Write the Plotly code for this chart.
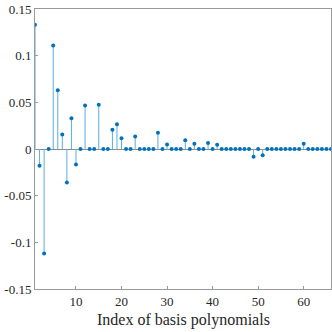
import plotly.graph_objects as go

# coefficient value per basis polynomial index (1..66)
index = list(range(1, 67))
coef = [0.133, -0.018, -0.112, 0, 0.111, 0.063, 0.0155, -0.036, 0.033, -0.0165,
        0, 0.0465, 0, 0, 0.0475, 0, 0, 0.0205, 0.0265, 0.0115,
        0, 0, 0.0135, 0, 0, 0, 0, 0.0175, 0, 0.0048,
        0, 0, 0, 0.0093, 0, 0.0055, 0, 0, 0.0065, 0,
        0.0045, 0, 0, 0, 0, 0, 0, 0, -0.0082, 0,
        -0.0068, 0, 0, 0, 0, 0, 0, 0, 0, 0.0055,
        0, 0, 0, 0, 0, 0]

xticks = [10, 20, 30, 40, 50, 60]
yticks = [-0.15, -0.1, -0.05, 0, 0.05, 0.1, 0.15]
ytick_text = ['-0.15', '-0.1', '-0.05', '0', '0.05', '0.1', '0.15']

# stems: vertical segments from 0 to each value
sx, sy = [], []
for i, v in zip(index, coef):
    sx += [i, i, None]
    sy += [0, v, None]

fig = go.Figure()
fig.add_trace(go.Scatter(x=sx, y=sy, mode='lines',
                         line=dict(color='#5aaee0', width=1), hoverinfo='skip'))
fig.add_trace(go.Scatter(x=index, y=coef, mode='markers',
                         marker=dict(color='#0072BD', size=4)))

serif = 'Liberation Serif, Times New Roman, serif'
axis_style = dict(showline=True, mirror=True, linecolor='#999999', linewidth=1,
                  ticks='inside', ticklen=3, tickcolor='#999999',
                  showgrid=False, tickfont=dict(family=serif, size=13, color='#262626'))

fig.update_layout(
    width=332, height=332,
    margin=dict(l=35, r=1, t=9, b=43, autoexpand=False),
    plot_bgcolor='white', paper_bgcolor='white',
    showlegend=False,
    xaxis=dict(range=[1, 66], tickvals=xticks, zeroline=False, **axis_style),
    yaxis=dict(range=[-0.15, 0.15], tickvals=yticks, ticktext=ytick_text,
               zeroline=True, zerolinecolor='#8c8c8c', zerolinewidth=1,
               **axis_style),
)

# x-axis title placed as annotation so it sits just under the tick labels
fig.add_annotation(text='Index of basis polynomials', xref='paper', yref='paper',
                   x=0.5, y=0, yanchor='middle', yshift=-31, showarrow=False,
                   font=dict(family=serif, size=16, color='#262626'))

fig.write_html("out.html", config={'displayModeBar': False},
               post_script="document.body.style.margin='0';")
